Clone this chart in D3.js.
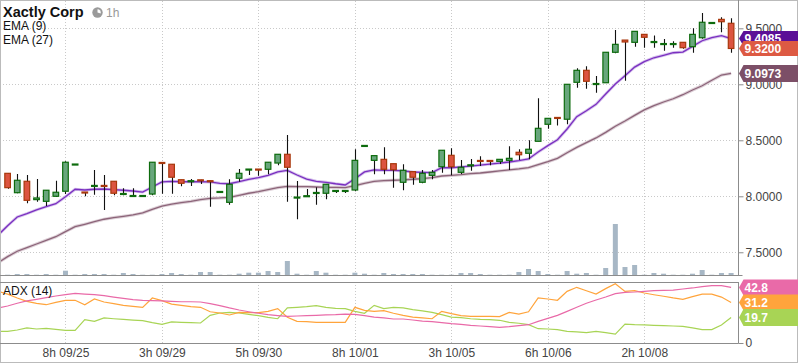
<!DOCTYPE html>
<html><head><meta charset="utf-8">
<script src="https://cdn.jsdelivr.net/npm/d3@7/dist/d3.min.js"></script>
<style>
html,body{margin:0;padding:0;background:#fff;}
svg{display:block;font-family:"Liberation Sans",Arial,Helvetica,sans-serif;}
</style></head>
<body><svg id="chart" width="798" height="363"></svg>
<script>
// ---------- data ----------
const title = "Xactly Corp";
const interval = "1h";
const tickIndex = [6, 16, 26, 36, 46, 56, 66];
const tickLabels = ["8h 09/25", "3h 09/29", "5h 09/30", "8h 10/01", "3h 10/05", "6h 10/06", "2h 10/08"];
const priceTicks = [7.5, 8.0, 8.5, 9.0, 9.5];

const open = [8.205,8.032,8.134,7.970,7.955,8.000,8.045,8.283,8.038,8.093,
  8.097,8.134,8.021,8.003,8.003,8.020,8.302,8.286,8.148,8.135,
  8.147,8.139,8.039,7.946,8.161,8.239,8.243,8.241,8.297,8.375,
  7.989,8.001,8.030,8.027,8.048,8.048,8.056,8.450,8.321,8.330,
  8.291,8.125,8.220,8.125,8.187,8.264,8.366,8.214,8.277,8.320,
  8.320,8.312,8.321,8.393,8.384,8.491,8.643,8.704,8.688,9.018,
  9.125,9.003,9.014,9.286,9.395,9.375,9.446,9.378,9.360,9.360,
  9.375,9.336,9.416,9.548,9.580,9.545];
const high = [8.208,8.199,8.190,8.154,8.054,8.139,8.313,8.288,8.038,8.235,
  8.190,8.134,8.071,8.071,8.011,8.304,8.302,8.286,8.148,8.154,
  8.147,8.139,8.043,8.152,8.244,8.243,8.243,8.304,8.375,8.547,
  8.137,8.065,8.080,8.107,8.052,8.052,8.420,8.454,8.363,8.438,
  8.291,8.286,8.220,8.235,8.235,8.411,8.429,8.324,8.333,8.357,
  8.320,8.330,8.446,8.420,8.500,8.875,8.696,8.704,9.000,9.143,
  9.161,9.074,9.286,9.485,9.395,9.473,9.446,9.437,9.404,9.384,
  9.375,9.500,9.637,9.552,9.598,9.589];
const low = [8.068,8.027,7.937,7.952,7.913,7.994,8.020,8.283,8.000,8.014,
  7.878,8.009,8.009,8.000,8.000,8.009,8.023,8.023,8.089,8.092,
  8.110,7.907,8.039,7.925,8.130,8.190,8.184,8.196,8.277,7.952,
  7.795,8.001,7.925,7.973,8.029,8.029,8.045,8.450,8.196,8.196,
  8.077,8.054,8.104,8.116,8.152,8.211,8.187,8.199,8.229,8.270,
  8.277,8.288,8.235,8.324,8.330,8.491,8.603,8.632,8.643,8.970,
  8.961,8.925,9.014,9.277,9.032,9.336,9.327,9.327,9.300,9.327,
  9.318,9.282,9.407,9.548,9.464,9.282];
const close = [8.077,8.143,7.964,7.985,8.054,8.036,8.304,8.288,8.034,8.097,
  8.093,8.027,8.025,8.007,8.007,8.304,8.298,8.170,8.116,8.139,
  8.143,8.135,8.043,8.107,8.205,8.243,8.239,8.304,8.375,8.259,
  7.993,8.005,8.034,8.107,8.052,8.052,8.321,8.454,8.363,8.241,
  8.237,8.232,8.170,8.205,8.214,8.411,8.264,8.259,8.281,8.316,
  8.316,8.330,8.339,8.371,8.420,8.607,8.696,8.700,9.000,9.125,
  9.027,9.007,9.286,9.357,9.378,9.473,9.420,9.382,9.364,9.364,
  9.327,9.446,9.554,9.552,9.559,9.320];
const volume = [3,10,10,3,10,3,43,3,10,10,
  10,3,20,10,3,3,10,20,10,3,
  30,30,3,3,13,23,23,40,30,140,
  13,3,40,23,3,3,23,13,3,20,
  10,10,10,10,3,3,3,20,20,10,
  3,3,3,30,60,40,10,3,40,13,
  20,3,70,510,80,100,3,20,13,3,
  3,13,50,3,20,20];

// indicator series start one bar before the first visible candle (index -1)
const ema9 = [7.652,7.737,7.815,7.845,7.878,7.907,7.934,7.996,8.063,8.056,8.063,
  8.065,8.059,8.054,8.047,8.038,8.083,8.128,8.134,8.130,8.130,
  8.130,8.128,8.116,8.112,8.130,8.152,8.166,8.187,8.217,8.232,
  8.190,8.154,8.134,8.125,8.112,8.101,8.157,8.217,8.235,8.232,
  8.232,8.226,8.217,8.214,8.211,8.255,8.255,8.262,8.270,8.279,
  8.288,8.297,8.306,8.318,8.333,8.396,8.452,8.505,8.601,8.711,
  8.764,8.821,8.913,9.003,9.077,9.154,9.202,9.237,9.259,9.282,
  9.288,9.339,9.389,9.416,9.434,9.4085];
const ema27 = [7.407,7.461,7.509,7.541,7.574,7.607,7.639,7.684,7.729,7.750,7.773,
  7.795,7.809,7.821,7.833,7.851,7.884,7.913,7.929,7.943,7.955,
  7.970,7.982,7.985,7.991,8.009,8.027,8.041,8.059,8.077,8.089,
  8.086,8.086,8.083,8.080,8.080,8.077,8.095,8.116,8.134,8.139,
  8.143,8.146,8.152,8.157,8.166,8.181,8.187,8.193,8.202,8.208,
  8.217,8.226,8.235,8.244,8.255,8.282,8.309,8.339,8.389,8.437,
  8.479,8.521,8.571,8.625,8.672,8.723,8.771,8.809,8.842,8.871,
  8.907,8.949,8.987,9.036,9.083,9.0973];
const adx = [27.0,28.5,30.6,32.4,33.6,34.9,36.2,37.2,38.3,37.7,37.2,
  36.5,35.4,34.4,33.4,32.9,32.6,32.4,32.1,31.8,31.8,
  31.6,30.3,28.8,27.0,25.4,24.1,22.9,21.8,21.1,20.5,
  20.8,21.1,21.3,21.6,21.8,22.3,22.1,21.1,20.0,19.3,
  18.5,18.5,17.7,16.9,16.4,15.7,14.9,14.4,13.6,13.1,
  12.6,12.1,12.6,13.4,14.1,16.7,19.0,21.3,24.4,27.5,
  30.6,33.1,35.4,38.0,39.0,39.3,39.8,40.3,40.6,40.8,
  41.6,42.4,43.4,44.2,44.2,42.8];
const plusDI = [39.8,37.7,34.7,32.1,30.6,29.5,31.3,32.9,32.9,29.5,33.9,
  31.6,30.3,29.0,28.2,27.5,34.7,32.6,30.0,29.0,28.0,
  27.5,24.1,23.1,21.6,23.6,23.4,23.4,24.4,26.5,19.8,
  16.7,16.4,15.9,15.9,15.9,15.9,27.5,25.2,24.4,24.9,
  22.9,21.3,20.0,19.3,18.7,24.4,22.6,21.1,20.5,20.5,
  20.5,20.3,23.6,22.3,24.1,34.7,33.9,32.9,39.8,42.9,
  40.3,37.7,41.9,45.7,39.8,40.3,38.5,37.2,36.0,34.7,
  33.6,35.7,37.7,37.7,35.4,31.2];
const minusDI = [9.0,9.0,10.0,11.6,10.8,11.3,10.5,9.8,9.8,18.0,16.7,
  19.3,18.7,18.2,17.7,17.2,15.7,14.4,16.2,15.9,15.7,
  15.4,21.3,23.1,23.6,23.1,22.1,21.1,19.8,18.7,27.0,
  27.5,28.0,28.8,27.5,26.7,26.5,24.4,22.9,29.0,26.5,
  27.5,27.0,25.7,24.7,23.6,21.8,20.0,19.5,18.7,18.2,
  18.0,17.5,15.9,15.2,14.1,11.0,10.8,10.3,9.0,8.5,
  8.0,9.0,8.0,6.9,14.6,14.1,13.9,13.6,13.4,13.1,
  12.8,11.6,10.3,10.3,13.9,19.7];

// ---------- layout ----------
const svg = d3.select("#chart");
const W = 798, H = 363;
const plotL = 0, plotR = 738.5;
const mainTop = 1, mainBot = 275;
const adxTop = 282, adxBot = 343;

const candles = open.map((o, i) => ({i, o, h: high[i], l: low[i], c: close[i], v: volume[i]}));

const x = d3.scaleLinear().domain([0, 75]).range([7.6, 731.1]);
const y = d3.scaleLinear().domain([7.297, 9.744]).range([mainBot, mainTop]);
const yv = d3.scaleLinear().domain([0, d3.max(volume)]).range([mainBot, mainBot - 51]);
const ya = d3.scaleLinear().domain([0, 47]).range([adxBot, adxTop]);
const step = x(1) - x(0);
const bodyW = step * 0.58;

svg.append("rect").attr("width", W).attr("height", H).attr("fill", "#fff");

const defs = svg.append("defs");
defs.append("clipPath").attr("id", "clipMain").append("rect")
  .attr("x", plotL).attr("y", mainTop).attr("width", plotR - plotL).attr("height", mainBot - mainTop);
defs.append("clipPath").attr("id", "clipAdx").append("rect")
  .attr("x", plotL).attr("y", adxTop).attr("width", plotR - plotL).attr("height", adxBot - adxTop);

const gridColor = "#c9c9c9";
// horizontal grid (main)
svg.append("g").selectAll("line").data(priceTicks).join("line")
  .attr("x1", plotL).attr("x2", plotR)
  .attr("y1", d => Math.round(y(d)) + 0.5).attr("y2", d => Math.round(y(d)) + 0.5)
  .attr("stroke", gridColor).attr("stroke-dasharray", "1,2");
// vertical grid both panels
[[mainTop, mainBot], [adxTop, adxBot]].forEach(([t, b]) => {
  svg.append("g").selectAll("line").data(tickIndex).join("line")
    .attr("x1", d => Math.round(x(d)) + 0.5).attr("x2", d => Math.round(x(d)) + 0.5)
    .attr("y1", t).attr("y2", b)
    .attr("stroke", gridColor).attr("stroke-dasharray", "1,2");
});

// volume
const gMain = svg.append("g").attr("clip-path", "url(#clipMain)");
gMain.append("g").selectAll("rect").data(candles).join("rect")
  .attr("x", d => x(d.i) - 2.5).attr("width", 5)
  .attr("y", d => yv(d.v)).attr("height", d => mainBot - yv(d.v))
  .attr("fill", "#a7b7c5");

// EMA lines
const lineIdx = (arr, ys) => d3.line().x((d, k) => x(k - 1)).y(d => ys(d))(arr);
gMain.append("path").attr("d", lineIdx(ema27, y)).attr("fill", "none")
  .attr("stroke", "#dccfd6").attr("stroke-width", 3.2);
gMain.append("path").attr("d", lineIdx(ema27, y)).attr("fill", "none")
  .attr("stroke", "#8c6479").attr("stroke-width", 1.3);
gMain.append("path").attr("d", lineIdx(ema9, y)).attr("fill", "none")
  .attr("stroke", "#d6c2ec").attr("stroke-width", 3);
gMain.append("path").attr("d", lineIdx(ema9, y)).attr("fill", "none")
  .attr("stroke", "#7a2fc0").attr("stroke-width", 1.3);

// candles
const gC = gMain.append("g");
gC.selectAll("line").data(candles).join("line")
  .attr("x1", d => Math.round(x(d.i)) + 0.5).attr("x2", d => Math.round(x(d.i)) + 0.5)
  .attr("y1", d => y(d.h)).attr("y2", d => y(d.l))
  .attr("stroke", "#111").attr("stroke-width", 1.1);
gC.selectAll("rect").data(candles).join("rect")
  .attr("x", d => x(d.i) - bodyW / 2).attr("width", bodyW)
  .attr("y", d => y(Math.max(d.o, d.c)))
  .attr("height", d => Math.max(1, Math.abs(y(d.o) - y(d.c))))
  .attr("fill", d => d.c >= d.o ? "#68a67c" : "#dc5440")
  .attr("stroke", d => d.c >= d.o ? "#0d6b0d" : "#a8380c")
  .attr("stroke-width", 1.2);

// ADX panel
const gAdx = svg.append("g").attr("clip-path", "url(#clipAdx)");
[[minusDI, "#a8d455"], [plusDI, "#ffa43c"], [adx, "#e96aa8"]].forEach(([arr, col]) => {
  gAdx.append("path").attr("d", lineIdx(arr, ya)).attr("fill", "none")
    .attr("stroke", col).attr("stroke-width", 1.2);
});

// frames / axes
const axisCol = "#8c8c8c";
svg.append("rect").attr("x", 0.5).attr("y", 0.5).attr("width", W - 1).attr("height", H - 1)
  .attr("fill", "none").attr("stroke", "#bbbbbb");
svg.append("line").attr("x1", plotR).attr("x2", plotR).attr("y1", 0).attr("y2", mainBot + 0.5).attr("stroke", axisCol);
svg.append("line").attr("x1", 0).attr("x2", plotR + 4).attr("y1", mainBot + 0.5).attr("y2", mainBot + 0.5).attr("stroke", axisCol);
svg.append("line").attr("x1", 0).attr("x2", plotR).attr("y1", adxTop + 0.5).attr("y2", adxTop + 0.5).attr("stroke", axisCol);
svg.append("line").attr("x1", plotR).attr("x2", plotR).attr("y1", adxTop).attr("y2", adxBot + 0.5).attr("stroke", axisCol);
svg.append("line").attr("x1", 0).attr("x2", plotR).attr("y1", adxBot + 0.5).attr("y2", adxBot + 0.5).attr("stroke", axisCol);

// right price axis
const gY = svg.append("g").attr("transform", `translate(${plotR},0)`)
  .call(d3.axisRight(y).tickValues(priceTicks).tickFormat(d3.format(".4f")).tickSize(5).tickPadding(2));
gY.select(".domain").remove();
gY.selectAll("line").attr("stroke", axisCol);
gY.selectAll("text").attr("fill", "#444").attr("font-size", 12).attr("font-family", "Liberation Sans, Arial, sans-serif");

// ADX axis (0)
const gA = svg.append("g").attr("transform", `translate(${plotR},0)`)
  .call(d3.axisRight(ya).tickValues([0]).tickSize(5).tickPadding(2));
gA.select(".domain").remove();
gA.selectAll("line").attr("stroke", axisCol);
gA.selectAll("text").attr("fill", "#444").attr("font-size", 12).attr("font-family", "Liberation Sans, Arial, sans-serif");

// x axis labels
const gX = svg.append("g").attr("transform", `translate(0,${adxBot})`)
  .call(d3.axisBottom(x).tickValues(tickIndex).tickFormat((d, k) => tickLabels[k]).tickSize(0).tickPadding(5));
gX.select(".domain").remove();
gX.selectAll("text").attr("fill", "#444").attr("font-size", 12).attr("font-family", "Liberation Sans, Arial, sans-serif");

// value tags
function tag(val, ys, col, txt, h) {
  const cy = ys(val);
  const g = svg.append("g");
  g.append("path").attr("d",
    `M${plotR + 0.5},${cy} L${plotR + 5},${cy - h / 2} L${W},${cy - h / 2} L${W},${cy + h / 2} L${plotR + 5},${cy + h / 2} Z`)
    .attr("fill", col);
  g.append("text").attr("x", plotR + 6).attr("y", cy).attr("dy", "0.36em")
    .attr("fill", "#fff").attr("font-size", 12).attr("font-weight", "bold").text(txt);
}
tag(ema27[ema27.length - 1], y, "#7c4f67", d3.format(".4f")(ema27[ema27.length - 1]), 17);
tag(ema9[ema9.length - 1], y, "#5b0f97", d3.format(".4f")(ema9[ema9.length - 1]), 15);
tag(close[close.length - 1], y, "#dd5a43", d3.format(".4f")(close[close.length - 1]), 15);
tag(adx[adx.length - 1], ya, "#e96aa8", d3.format(".1f")(adx[adx.length - 1]), 16);
tag(plusDI[plusDI.length - 1], ya, "#ffa43c", d3.format(".1f")(plusDI[plusDI.length - 1]), 16);
tag(minusDI[minusDI.length - 1], ya, "#a8d455", d3.format(".1f")(minusDI[minusDI.length - 1]), 17);

// header
svg.append("text").attr("x", 3).attr("y", 17).attr("font-size", 14.5).attr("font-weight", "bold")
  .attr("fill", "#111").text(title);
const clock = svg.append("g").attr("transform", "translate(97.5,12.5)");
clock.append("circle").attr("r", 5.2).attr("fill", "#9a9a9a");
clock.append("path").attr("d", d3.arc().innerRadius(0).outerRadius(3.3).startAngle(0).endAngle(Math.PI * 0.6)()).attr("fill", "#fff");
svg.append("text").attr("x", 106).attr("y", 17).attr("font-size", 12).attr("fill", "#999").text(interval);
svg.append("text").attr("x", 3).attr("y", 29.5).attr("font-size", 12).attr("fill", "#111").text("EMA (9)");
svg.append("text").attr("x", 3).attr("y", 44).attr("font-size", 12).attr("fill", "#111").text("EMA (27)");
svg.append("text").attr("x", 3).attr("y", 295).attr("font-size", 12).attr("fill", "#111").text("ADX (14)");
</script></body></html>
